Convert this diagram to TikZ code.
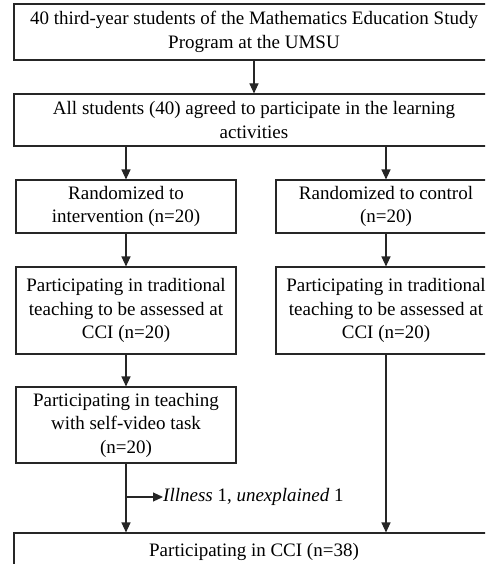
\documentclass[tikz,border=0pt]{standalone}
\usepackage{fontspec}
\setmainfont{Liberation Serif}
\usetikzlibrary{arrows.meta}
\begin{document}
\begin{tikzpicture}[x=1pt,y=-1pt,
 box/.style={draw=black!85, line width=1.1pt, inner sep=0pt, align=center, font=\fontsize{19}{23.5}\selectfont},
 arr/.style={draw=black!85, line width=1.1pt, -{Triangle[length=10pt,width=9pt]}},
 plain/.style={draw=black!85, line width=1.1pt},
 lbl/.style={inner sep=0pt, font=\fontsize{19}{23.5}\selectfont, anchor=west}]
\useasboundingbox (0,0) rectangle (485,564);
\clip (0,0) rectangle (485,564);
\node[box, minimum width=480pt, minimum height=56pt] (b1) at (254,32) {40 third-year students of the Mathematics Education Study\\Program at the UMSU};
\node[box, minimum width=480pt, minimum height=52pt] (b2) at (254,120) {All students (40) agreed to participate in the learning\\activities};
\node[box, minimum width=220pt, minimum height=53pt] (b3) at (126,206.5) {Randomized to\\intervention (n=20)};
\node[box, minimum width=220pt, minimum height=53pt] (b4) at (386,206.5) {Randomized to control\\(n=20)};
\node[box, minimum width=220pt, minimum height=87pt] (b5) at (126,310.5) {Participating in traditional\\teaching to be assessed at\\CCI (n=20)};
\node[box, minimum width=220pt, minimum height=87pt] (b6) at (386,310.5) {Participating in traditional\\teaching to be assessed at\\CCI (n=20)};
\node[box, minimum width=220pt, minimum height=76pt] (b7) at (126,425) {Participating in teaching\\with self-video task\\(n=20)};
\node[box, minimum width=480pt, minimum height=38pt] (b8) at (254,552) {Participating in CCI (n=38)};
\node[lbl] (ill) at (163,497) {\textit{Illness} 1, \textit{unexplained} 1};
\coordinate (br) at (b7.south |- ill.west);
\draw[arr] (b1.south) -- (b2.north);
\draw[arr] (b2.south -| b3.north) -- (b3.north);
\draw[arr] (b2.south -| b4.north) -- (b4.north);
\draw[arr] (b3.south) -- (b5.north);
\draw[arr] (b4.south) -- (b6.north);
\draw[arr] (b5.south) -- (b7.north);
\draw[arr] (b7.south) -- (b7.south |- b8.north);
\draw[arr] (br) -- (ill.west);
\draw[arr] (b6.south) -- (b6.south |- b8.north);
\end{tikzpicture}
\end{document}
